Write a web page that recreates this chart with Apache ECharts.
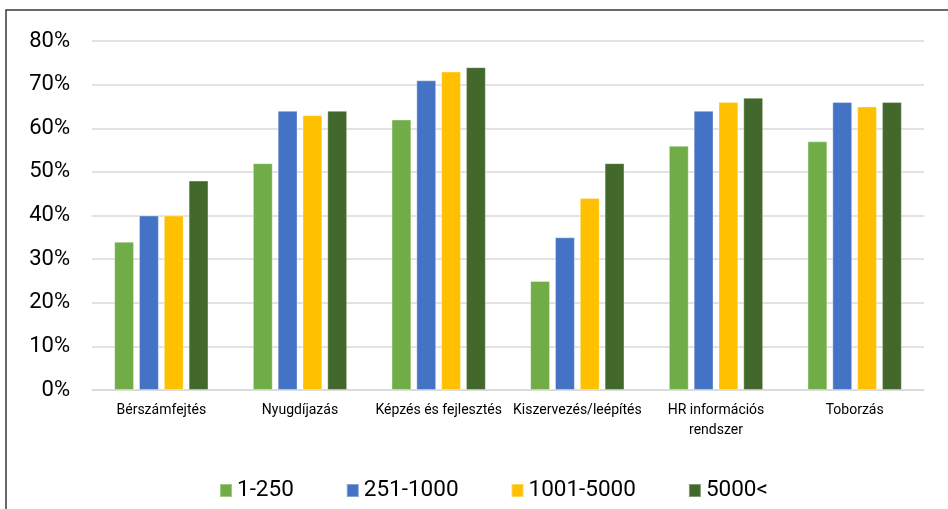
<!DOCTYPE html>
<html>
<head>
<meta charset="utf-8">
<script src="https://cdn.jsdelivr.net/npm/echarts@6/dist/echarts.min.js"></script>
<style>
html,body{margin:0;padding:0;background:#fff;}
#chart{width:948px;height:509px;}
</style>
</head>
<body>
<div id="chart"></div>
<script>
const categories = ['Bérszámfejtés', 'Nyugdíjazás', 'Képzés és fejlesztés', 'Kiszervezés/leépítés', 'HR információs\nrendszer', 'Toborzás'];
const seriesNames = ['1-250', '251-1000', '1001-5000', '5000<'];
const s1_250 = [34, 52, 62, 25, 56, 57];
const s251_1000 = [40, 64, 71, 35, 64, 66];
const s1001_5000 = [40, 63, 73, 44, 66, 65];
const s5000plus = [48, 64, 74, 52, 67, 66];
const yTicks = [0, 10, 20, 30, 40, 50, 60, 70, 80];
const colors = ['#70AD47', '#4472C4', '#FFC000', '#43682B'];

const chart = echarts.init(document.getElementById('chart'));
const dataSets = [s1_250, s251_1000, s1001_5000, s5000plus];
const FONT = 'Roboto';

chart.setOption({
  animation: false,
  textStyle: { fontFamily: FONT },
  graphic: [{
    type: 'rect',
    shape: { x: 6, y: 10, width: 1000, height: 600 },
    style: { fill: 'none', stroke: '#3a3a3a', lineWidth: 1.5 },
    silent: true
  }],
  grid: { left: 92, right: 24, top: 41, bottom: 119 },
  legend: {
    left: 214,
    top: 474,
    itemWidth: 12,
    itemHeight: 13,
    itemGap: 52,
    icon: 'rect',
    textStyle: { fontFamily: FONT, fontSize: 22.5, color: '#000' },
    data: seriesNames
  },
  xAxis: {
    type: 'category',
    data: categories,
    axisLine: { lineStyle: { color: '#D9D9D9', width: 1.5 } },
    axisTick: { show: false },
    axisLabel: { fontFamily: FONT, fontSize: 14, color: '#000', margin: 10, lineHeight: 20, interval: 0 }
  },
  yAxis: {
    type: 'value',
    min: yTicks[0],
    max: yTicks[yTicks.length - 1],
    interval: 10,
    axisLine: { show: false },
    axisTick: { show: false },
    splitLine: { lineStyle: { color: '#D9D9D9', width: 1.5 } },
    axisLabel: { fontFamily: FONT, fontSize: 22, color: '#000', margin: 22, formatter: '{value}%' }
  },
  series: seriesNames.map((n, i) => ({
    name: n,
    type: 'bar',
    data: dataSets[i],
    barGap: '25%',
    barCategoryGap: '32%',
    itemStyle: { color: colors[i], borderColor: 'rgba(255,255,255,0.35)', borderWidth: 1 }
  }))
});
</script>
</body>
</html>
